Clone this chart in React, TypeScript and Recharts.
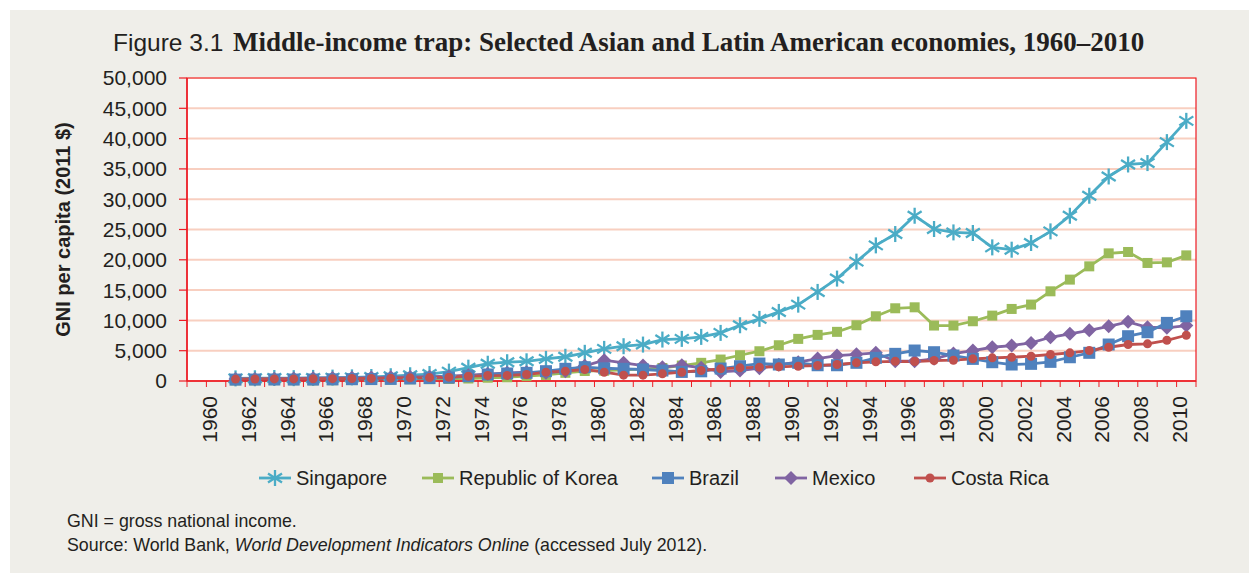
import React from 'react'
import { LineChart, Line, XAxis, YAxis, CartesianGrid, ReferenceArea } from 'recharts'

const YEARS = [
  1961, 1962, 1963, 1964, 1965, 1966, 1967, 1968, 1969, 1970,
  1971, 1972, 1973, 1974, 1975, 1976, 1977, 1978, 1979, 1980,
  1981, 1982, 1983, 1984, 1985, 1986, 1987, 1988, 1989, 1990,
  1991, 1992, 1993, 1994, 1995, 1996, 1997, 1998, 1999, 2000,
  2001, 2002, 2003, 2004, 2005, 2006, 2007, 2008, 2009, 2010
]

const SINGAPORE = [
  430, 450, 490, 470, 510, 560, 600, 660, 790, 950,
  1150, 1550, 2200, 2850, 3100, 3250, 3650, 4000, 4650, 5300,
  5740, 6010, 6840, 6950, 7280, 7940, 9200, 10250, 11400, 12600,
  14700, 16900, 19700, 22380, 24250, 27270, 25080, 24520, 24420, 22050,
  21670, 22770, 24690, 27270, 30570, 33750, 35730, 35960, 39420, 42930
]

const KOREA = [
  100, 110, 140, 130, 110, 130, 160, 200, 240, 280,
  310, 330, 410, 540, 620, 800, 1000, 1350, 1650, 1700,
  1850, 1950, 2150, 2550, 3000, 3540, 4250, 4910, 5900, 6950,
  7610, 8110, 9200, 10680, 12000, 12160, 9150, 9150, 9860, 10790,
  11890, 12610, 14800, 16730, 18920, 21060, 21290, 19480, 19580, 20730
]

const BRAZIL = [
  230, 240, 250, 240, 240, 270, 300, 320, 350, 420,
  480, 560, 790, 1070, 1240, 1350, 1620, 2010, 2280, 2100,
  2010, 1900, 1730, 1500, 1600, 2060, 2440, 2880, 2720, 3000,
  2600, 2600, 3000, 3820, 4480, 5030, 4750, 4200, 3650, 3100,
  2720, 2830, 3160, 3920, 4650, 6020, 7390, 8050, 9590, 10680
]

const MEXICO = [
  330, 350, 380, 430, 460, 500, 530, 570, 610, 680,
  720, 800, 950, 1150, 1350, 1450, 1350, 1620, 2500, 3430,
  3000, 2550, 2280, 2600, 2200, 1500, 1730, 2110, 2700, 3100,
  3700, 4200, 4400, 4650, 3270, 3270, 3660, 4530, 5030, 5570,
  5850, 6290, 7220, 7780, 8370, 9030, 9760, 8870, 8770, 9150
]

const COSTA_RICA = [
  320, 330, 340, 350, 370, 390, 410, 430, 460, 520,
  560, 630, 790, 900, 920, 1070, 1450, 1620, 1900, 1450,
  960, 960, 1190, 1450, 1730, 2010, 2170, 2280, 2340, 2440,
  2550, 2720, 3000, 3160, 3250, 3210, 3380, 3430, 3660, 3820,
  3920, 4090, 4370, 4650, 5030, 5570, 6020, 6130, 6720, 7550
]

const Y_TICKS = [0, 5000, 10000, 15000, 20000, 25000, 30000, 35000, 40000, 45000, 50000]

const X_LABELS = [
  1960, 1962, 1964, 1966, 1968, 1970, 1972, 1974, 1976, 1978, 1980, 1982, 1984,
  1986, 1988, 1990, 1992, 1994, 1996, 1998, 2000, 2002, 2004, 2006, 2008, 2010
]

// year slots run 1959..2010, tick marks sit on the slot edges
const X_EDGES = Array.from({ length: 53 }, (_, i) => 1958.5 + i)

const SERIES = [
  { key: 'singapore', name: 'Singapore', color: '#4bacc6', marker: 'star', legendX: 259 },
  { key: 'korea', name: 'Republic of Korea', color: '#9bbb59', marker: 'smallSquare', legendX: 422 },
  { key: 'brazil', name: 'Brazil', color: '#4f81bd', marker: 'square', legendX: 652 },
  { key: 'mexico', name: 'Mexico', color: '#8064a2', marker: 'diamond', legendX: 775 },
  { key: 'costaRica', name: 'Costa Rica', color: '#c0504d', marker: 'circle', legendX: 914 }
]

// drawing order: Mexico sits under Brazil in the original
const DRAW_ORDER = ['singapore', 'korea', 'mexico', 'brazil', 'costaRica']

const data = YEARS.map((year, i) => ({
  year,
  singapore: SINGAPORE[i],
  korea: KOREA[i],
  brazil: BRAZIL[i],
  mexico: MEXICO[i],
  costaRica: COSTA_RICA[i]
}))

const SANS = '"Liberation Sans", Arial, Helvetica, sans-serif'
const TEXT = '#231f20'
const RED = '#ed1c24'

const Marker = ({ kind, cx, cy, color }: { kind: string; cx: number; cy: number; color: string }) => {
  if (kind === 'star') {
    return (
      <g stroke={color} strokeWidth={2.3}>
        <line x1={cx} y1={cy - 8} x2={cx} y2={cy + 8} />
        <line x1={cx - 7} y1={cy - 4.5} x2={cx + 7} y2={cy + 4.5} />
        <line x1={cx - 7} y1={cy + 4.5} x2={cx + 7} y2={cy - 4.5} />
      </g>
    )
  }
  if (kind === 'smallSquare') {
    return <rect x={cx - 5} y={cy - 5} width={10} height={10} fill={color} />
  }
  if (kind === 'square') {
    return <rect x={cx - 6} y={cy - 6} width={12} height={12} fill={color} />
  }
  if (kind === 'diamond') {
    return <polygon points={`${cx},${cy - 7} ${cx + 7},${cy} ${cx},${cy + 7} ${cx - 7},${cy}`} fill={color} />
  }
  return <circle cx={cx} cy={cy} r={4.5} fill={color} />
}

const YearTick = (props: any) => {
  const { x, y, payload } = props
  const year = payload.value + 0.5
  if (!X_LABELS.includes(year)) return <g />
  const tx = x + 3
  return (
    <text
      x={tx}
      y={y}
      transform={`rotate(-90 ${tx} ${y})`}
      textAnchor="end"
      dominantBaseline="central"
      fontSize={21}
      fontFamily={SANS}
      fill={TEXT}
    >
      {year}
    </text>
  )
}

export default function App() {
  return (
    <div style={{ position: 'absolute', left: 0, top: 0, width: 1249, height: 573, background: '#fff' }}>
      <div style={{ position: 'absolute', left: 10, top: 10, width: 1239, height: 563, background: '#efeee9' }} />
      <div style={{ position: 'absolute', left: 0, top: 0 }}>
        <LineChart
          width={1249}
          height={573}
          data={data}
          margin={{ top: 78, right: 53, bottom: 0, left: 0 }}
          style={{ fontFamily: SANS }}
        >
          <CartesianGrid vertical={false} stroke="#f8cfc0" strokeWidth={2} fill="#ffffff" />
          <XAxis
            dataKey="year"
            type="number"
            domain={[1958.5, 2010.5]}
            ticks={X_EDGES}
            interval={0}
            height={192}
            tickSize={6}
            tickMargin={9}
            tick={<YearTick />}
            axisLine={{ stroke: RED, strokeWidth: 1.5 }}
            tickLine={{ stroke: RED, strokeWidth: 1 }}
          />
          <YAxis
            type="number"
            domain={[0, 50000]}
            ticks={Y_TICKS}
            interval={0}
            width={187}
            tickSize={8}
            tickMargin={12}
            tickFormatter={(v: number) => v.toLocaleString('en-US')}
            tick={{ fontSize: 21, fill: TEXT, fontFamily: SANS }}
            axisLine={{ stroke: RED, strokeWidth: 1.5 }}
            tickLine={{ stroke: RED, strokeWidth: 1.2 }}
            label={{
              value: 'GNI per capita (2011 $)',
              angle: -90,
              position: 'insideLeft',
              offset: 63,
              style: { textAnchor: 'middle', fontWeight: 700, fontSize: 20, fill: TEXT, fontFamily: SANS }
            }}
          />
          <ReferenceArea x1={1958.5} x2={2010.5} y1={0} y2={50000} fill="none" stroke={RED} strokeWidth={1.2} />
          {DRAW_ORDER.map(key => {
            const s = SERIES.find(item => item.key === key)!
            return (
              <Line
                key={s.key}
                dataKey={s.key}
                name={s.name}
                type="linear"
                stroke={s.color}
                strokeWidth={2.8}
                isAnimationActive={false}
                activeDot={false}
                dot={(p: any) =>
                  p.cx == null || p.cy == null ? (
                    <g key={`${s.key}-${p.index}`} />
                  ) : (
                    <Marker key={`${s.key}-${p.index}`} kind={s.marker} cx={p.cx} cy={p.cy} color={s.color} />
                  )
                }
              />
            )
          })}
        </LineChart>
      </div>
      <svg
        width={1249}
        height={573}
        style={{ position: 'absolute', left: 0, top: 0, pointerEvents: 'none' }}
      >
        <text x={113} y={51} fontFamily={SANS} fontSize={24.5} fill={TEXT}>
          Figure 3.1
        </text>
        <text
          x={233}
          y={51}
          fontFamily='"Liberation Serif", "DejaVu Serif", serif'
          fontWeight={700}
          fontSize={27}
          fill={TEXT}
        >
          Middle-income trap: Selected Asian and Latin American economies, 1960–2010
        </text>
        {SERIES.map(s => (
          <g key={s.key}>
            <line x1={s.legendX} y1={478} x2={s.legendX + 32} y2={478} stroke={s.color} strokeWidth={2.8} />
            <Marker kind={s.marker} cx={s.legendX + 16} cy={478} color={s.color} />
            <text x={s.legendX + 37} y={485} fontFamily={SANS} fontSize={20} fill={TEXT}>
              {s.name}
            </text>
          </g>
        ))}
        <text x={67} y={527} fontFamily={SANS} fontSize={17.8} fill={TEXT}>
          GNI = gross national income.
        </text>
        <text x={67} y={551} fontFamily={SANS} fontSize={17.8} fill={TEXT}>
          Source: World Bank, <tspan fontStyle="italic">World Development Indicators Online</tspan> (accessed July 2012).
        </text>
      </svg>
    </div>
  )
}
